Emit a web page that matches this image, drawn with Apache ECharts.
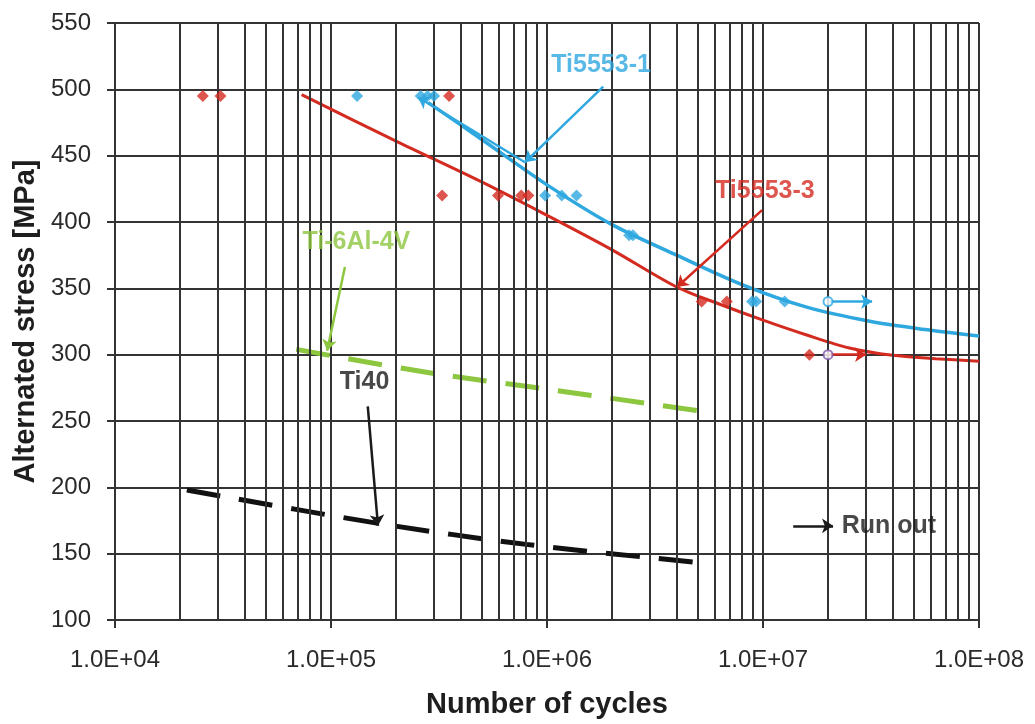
<!DOCTYPE html>
<html>
<head>
<meta charset="utf-8">
<script src="https://cdn.jsdelivr.net/npm/echarts@6/dist/echarts.min.js"></script>
<style>
  html, body { margin: 0; padding: 0; background: #fff; }
  #chart { width: 1035px; height: 724px; }
</style>
</head>
<body>
<div id="chart"></div>
<script>
// measured points (cycles, MPa)
const ti5553_3_points = [[2.55e4, 495], [3.08e4, 495], [3.52e5, 495], [3.27e5, 420], [5.93e5, 420],
  [7.6e5, 420], [8.2e5, 420], [5.2e6, 340], [6.8e6, 340], [1.64e7, 300]]
const ti5553_1_points = [[1.32e5, 495], [2.6e5, 495], [2.8e5, 495], [3.0e5, 495], [9.8e5, 420],
  [1.17e6, 420], [1.37e6, 420], [2.4e6, 390], [2.5e6, 390], [8.9e6, 340], [9.3e6, 340], [1.26e7, 340]]

// run outs: start -> arrow tip
const runOutRed = [[2.0e7, 300], [3.0e7, 300]]
const runOutBlue = [[2.0e7, 340], [3.2e7, 340]]

// fitted curves
const ti5553_3_curve = [[7.31e4, 496], [2.0e5, 461], [5.01e5, 430], [1.0e6, 405], [2.0e6, 379],
  [3.98e6, 351], [6.31e6, 338], [1.0e7, 326], [1.58e7, 315], [2.51e7, 305], [3.98e7, 299.5],
  [6.31e7, 297], [1.0e8, 295]]
const ti5553_1_curve = [[2.82e5, 490], [5.01e5, 462], [1.0e6, 428], [2.0e6, 398], [3.98e6, 375],
  [7.94e6, 353], [1.58e7, 336], [3.16e7, 325], [5.62e7, 319], [1.0e8, 314]]
const ti64_curve = [[6.9e4, 304], [2.95e5, 286], [1.0e6, 274], [5.4e6, 257]]
const ti40_curve = [[2.15e4, 198], [1.63e5, 173], [8.0e5, 157], [5.3e6, 143]]

const yTicks = { min: 100, max: 550, step: 50 }
const xDecades = [1e4, 1e5, 1e6, 1e7, 1e8]

const minorLines = []
xDecades.slice(0, -1).forEach(d => {
  for (let k = 2; k <= 9; k++) minorLines.push({ xAxis: d * k })
})

const RED = '#D42B21', BLUE = '#2FA8E0', GREEN = '#8DC63F', PURPLE = '#7E57A8', GRID = '#333'

const labelFont = { fontFamily: 'Liberation Sans', fontWeight: 'bold', fontSize: 25 }

const labels = [
  { value: [1.78e6, 518], text: 'Ti5553-1', color: BLUE },
  { value: [1.02e7, 423], text: 'Ti5553-3', color: RED },
  { value: [1.31e5, 385], text: 'Ti-6Al-4V', color: GREEN },
  { value: [1.43e5, 279], text: 'Ti40', color: '#1a1a1a' },
]

const pointers = [
  [[1.82e6, 502], [7.9e5, 445], BLUE],
  [[7.9e5, 445], [2.53e5, 494], BLUE],
  [[9.9e6, 409], [4.0e6, 351], RED],
  [[1.16e5, 366], [9.6e4, 303], GREEN],
  [[1.48e5, 261], [1.65e5, 171], '#1a1a1a'],
  [runOutRed[0], runOutRed[1], RED],
  [runOutBlue[0], runOutBlue[1], BLUE],
  [[1.38e7, 171], [2.11e7, 171], '#1a1a1a'],
]

const chart = echarts.init(document.getElementById('chart'))

const option = {
  animation: false,
  grid: { left: 115, right: 56, top: 23, bottom: 102 },
  xAxis: {
    type: 'log',
    logBase: 10,
    min: 1e4,
    max: 1e8,
    name: 'Number of cycles',
    nameLocation: 'middle',
    nameGap: 70,
    nameTextStyle: { fontFamily: 'Liberation Sans', fontWeight: 'bold', fontSize: 29, color: '#1e1e1e' },
    axisLine: { lineStyle: { color: GRID, width: 2 } },
    axisTick: { show: true, length: 8, lineStyle: { color: GRID, width: 2 } },
    axisLabel: {
      margin: 28,
      fontFamily: 'Liberation Sans', fontSize: 24, color: '#2a2a2a',
      formatter: v => '1.0E+' + String(Math.round(Math.log10(v))).padStart(2, '0'),
    },
    splitLine: { show: true, lineStyle: { color: GRID, width: 2 } },
  },
  yAxis: {
    type: 'value',
    min: yTicks.min,
    max: yTicks.max,
    interval: yTicks.step,
    name: 'Alternated stress [MPa]',
    nameLocation: 'middle',
    nameGap: 72,
    nameTextStyle: { fontFamily: 'Liberation Sans', fontWeight: 'bold', fontSize: 29, color: '#1e1e1e' },
    axisLine: { show: true, lineStyle: { color: GRID, width: 2 } },
    axisTick: { show: true, length: 8, lineStyle: { color: GRID, width: 2 } },
    axisLabel: { margin: 24, fontFamily: 'Liberation Sans', fontSize: 24, color: '#2a2a2a' },
    splitLine: { show: true, lineStyle: { color: GRID, width: 2 } },
  },
  series: [
    {
      name: 'minor grid',
      type: 'line',
      data: [],
      z: 1,
      silent: true,
      markLine: {
        silent: true,
        symbol: 'none',
        label: { show: false },
        lineStyle: { type: 'solid', color: GRID, width: 2 },
        data: minorLines,
      },
    },
    {
      name: 'Ti5553-3 fit', type: 'line', smooth: 0.3, showSymbol: false, z: 3,
      lineStyle: { color: RED, width: 3 }, data: ti5553_3_curve,
    },
    {
      name: 'Ti5553-1 fit', type: 'line', smooth: 0.3, showSymbol: false, z: 3,
      lineStyle: { color: BLUE, width: 3.5 }, data: ti5553_1_curve,
    },
    {
      name: 'Ti-6Al-4V', type: 'line', smooth: 0.3, showSymbol: false, z: 3,
      lineStyle: { color: GREEN, width: 5, type: [34, 19] }, data: ti64_curve,
    },
    {
      name: 'Ti40', type: 'line', smooth: 0.3, showSymbol: false, z: 3,
      lineStyle: { color: '#111', width: 5, type: [34, 19] }, data: ti40_curve,
    },
    {
      name: 'pointers', type: 'line', data: [], z: 4,
      markLine: {
        silent: true,
        symbol: ['none', 'arrow'],
        symbolSize: 11,
        label: { show: false },
        data: pointers.map(p => [
          { coord: p[0], lineStyle: { color: p[2], width: 2.5, type: 'solid' } },
          { coord: p[1] },
        ]),
      },
    },
    {
      name: 'Ti5553-3', type: 'scatter', symbol: 'diamond', symbolSize: 12, z: 5,
      itemStyle: { color: RED }, data: ti5553_3_points,
    },
    {
      name: 'Ti5553-1', type: 'scatter', symbol: 'diamond', symbolSize: 12, z: 5,
      itemStyle: { color: BLUE }, data: ti5553_1_points,
    },
    {
      name: 'run out', type: 'scatter', symbol: 'circle', symbolSize: 9, z: 6,
      data: [
        { value: runOutRed[0], itemStyle: { color: '#fff', borderColor: PURPLE, borderWidth: 2 } },
        { value: runOutBlue[0], itemStyle: { color: '#fff', borderColor: BLUE, borderWidth: 2 } },
      ],
    },
    {
      name: 'labels', type: 'scatter', symbolSize: 1, z: 7, silent: true,
      itemStyle: { color: 'rgba(0,0,0,0)' },
      data: labels.map(l => ({
        value: l.value,
        label: { show: true, position: 'inside', formatter: l.text, color: l.color, ...labelFont },
      })),
    },
    {
      name: 'run out text', type: 'scatter', symbolSize: 1, z: 7, silent: true,
      itemStyle: { color: 'rgba(0,0,0,0)' },
      data: [{
        value: [2.3e7, 171],
        label: { show: true, position: 'right', distance: 0, formatter: 'Run out', color: '#1a1a1a', ...labelFont },
      }],
    },
  ],
}

chart.setOption(option)
</script>
</body>
</html>
